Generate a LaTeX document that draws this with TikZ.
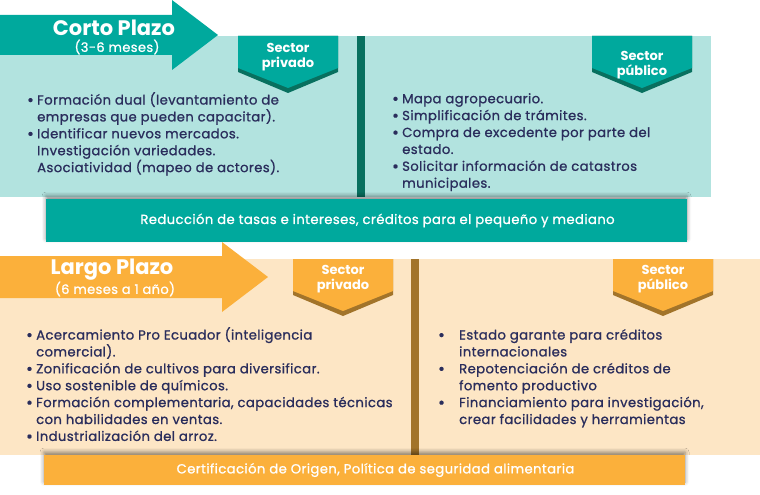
\documentclass[tikz,border=0pt]{standalone}
\usepackage{fontspec}
\setmainfont{Poppins}
\newfontfamily\medfont{Poppins}[FakeBold=1,LetterSpace=3]
\usetikzlibrary{shadows.blur}
\definecolor{tealL}{HTML}{B2E3DF}
\definecolor{tealM}{HTML}{00A99D}
\definecolor{tealD}{HTML}{08705F}
\definecolor{orgL}{HTML}{FDE6C5}
\definecolor{orgM}{HTML}{FBB03B}
\definecolor{orgD}{HTML}{A2742A}
\definecolor{navy}{HTML}{2A2D5C}
\newcommand\blt[1]{\makebox[#1][l]{\bfseries\textbullet}}
\begin{document}
\begin{tikzpicture}[x=1pt,y=-1pt,
  listtext/.style={anchor=north west,inner sep=0pt,align=left,text=navy,
    font=\medfont\fontsize{13.2}{16.9}\selectfont},
  title/.style={text=white,inner sep=0pt,font=\bfseries\fontsize{21}{22}\selectfont},
  subtitle/.style={text=white,inner sep=0pt,font=\medfont\fontsize{13}{14}\selectfont},
  tabtext/.style={text=white,inner sep=0pt,align=center,font=\bfseries\fontsize{13}{15}\selectfont},
  bandtext/.style={text=white,inner sep=0pt,font=\medfont\fontsize{13.2}{14}\selectfont},
  bandshadow/.style={blur shadow={shadow xshift=0pt,shadow yshift=3pt,shadow blur radius=4pt,shadow opacity=45}}
]
\useasboundingbox (0,0) rectangle (760,495);

% ---------- top panel ----------
\fill[tealL] (0,36) rectangle (711,197);
\fill[tealD] (357,36) rectangle (365,197);
% arrow
\fill[tealM] (0,15) -- (172,15) -- (172,0) -- (218,35) -- (172,70) -- (172,55) -- (0,55) -- cycle;
\node[title] (corto) at (114,28) {Corto Plazo};
\node[subtitle] (cortosub) at (117,47) {(3-6 meses)};
% tabs
\fill[tealD] (238,36) -- (338,36) -- (338,72) -- (288,93) -- (238,72) -- cycle;
\fill[tealM] (238,36) -- (338,36) -- (338,68) -- (288,88) -- (238,68) -- cycle;
\node[tabtext] (tpriv) at (288,57) {Sector\\privado};
\fill[tealD] (592,36) -- (692,36) -- (692,72) -- (642,93) -- (592,72) -- cycle;
\fill[tealM] (592,36) -- (692,36) -- (692,68) -- (642,88) -- (592,68) -- cycle;
\node[tabtext] (tpub) at (642,65) {Sector\\público};
% lists
\node[listtext] (tl) at (27,92) {\blt{10pt}Formación dual (levantamiento de\\
\hspace*{10pt}empresas que pueden capacitar).\\
\blt{10pt}Identificar nuevos mercados.\\
\hspace*{10pt}Investigación variedades.\\
\hspace*{10pt}Asociatividad (mapeo de actores).};
\node[listtext] (tr) at (392,93) {\blt{10pt}Mapa agropecuario.\\
\blt{10pt}Simplificación de trámites.\\
\blt{10pt}Compra de excedente por parte del\\
\hspace*{10pt}estado.\\
\blt{10pt}Solicitar información de catastros\\
\hspace*{10pt}municipales.};
% band
\node[fill=tealM,minimum width=641pt,minimum height=43pt,inner sep=0pt,bandshadow,
  bandtext] (band1) at (366.5,220.5) {\hspace*{22pt}Reducción de tasas e intereses, créditos para el pequeño y mediano};

% ---------- bottom panel ----------
\fill[orgL] (0,259) rectangle (760,455);
\fill[orgD] (411,259) rectangle (419,455);
\fill[orgM] (0,256) -- (222,256) -- (222,242) -- (268,277) -- (222,312) -- (222,298) -- (0,298) -- cycle;
\node[title] (largo) at (112,270) {Largo Plazo};
\node[subtitle] (largosub) at (115,289) {(6 meses a 1 año)};
\fill[orgD] (293,259) -- (393,259) -- (393,295) -- (343,316) -- (293,295) -- cycle;
\fill[orgM] (293,259) -- (393,259) -- (393,291) -- (343,311) -- (293,291) -- cycle;
\node[tabtext] (bpriv) at (343,279) {Sector\\privado};
\fill[orgD] (613,259) -- (713,259) -- (713,295) -- (663,316) -- (613,295) -- cycle;
\fill[orgM] (613,259) -- (713,259) -- (713,291) -- (663,311) -- (613,291) -- cycle;
\node[tabtext] (bpub) at (663,279) {Sector\\público};
\node[listtext] (bl) at (26,327) {\blt{10pt}Acercamiento Pro Ecuador (inteligencia\\
\hspace*{10pt}comercial).\\
\blt{10pt}Zonificación de cultivos para diversificar.\\
\blt{10pt}Uso sostenible de químicos.\\
\blt{10pt}Formación complementaria, capacidades técnicas\\
\hspace*{10pt}con habilidades en ventas.\\
\blt{10pt}Industrialización del arroz.};
\node[listtext] (br) at (438,329) {\blt{21pt}Estado garante para créditos\\
\hspace*{21pt}internacionales\\
\blt{21pt}Repotenciación de créditos de\\
\hspace*{21pt}fomento productivo\\
\blt{21pt}Financiamiento para investigación,\\
\hspace*{21pt}crear facilidades y herramientas};
\node[fill=orgM,minimum width=641pt,minimum height=30pt,inner sep=0pt,bandshadow,
  bandtext] (band2) at (364.5,470) {\hspace*{22pt}Certificación de Origen, Política de seguridad alimentaria};
\end{tikzpicture}
\end{document}
